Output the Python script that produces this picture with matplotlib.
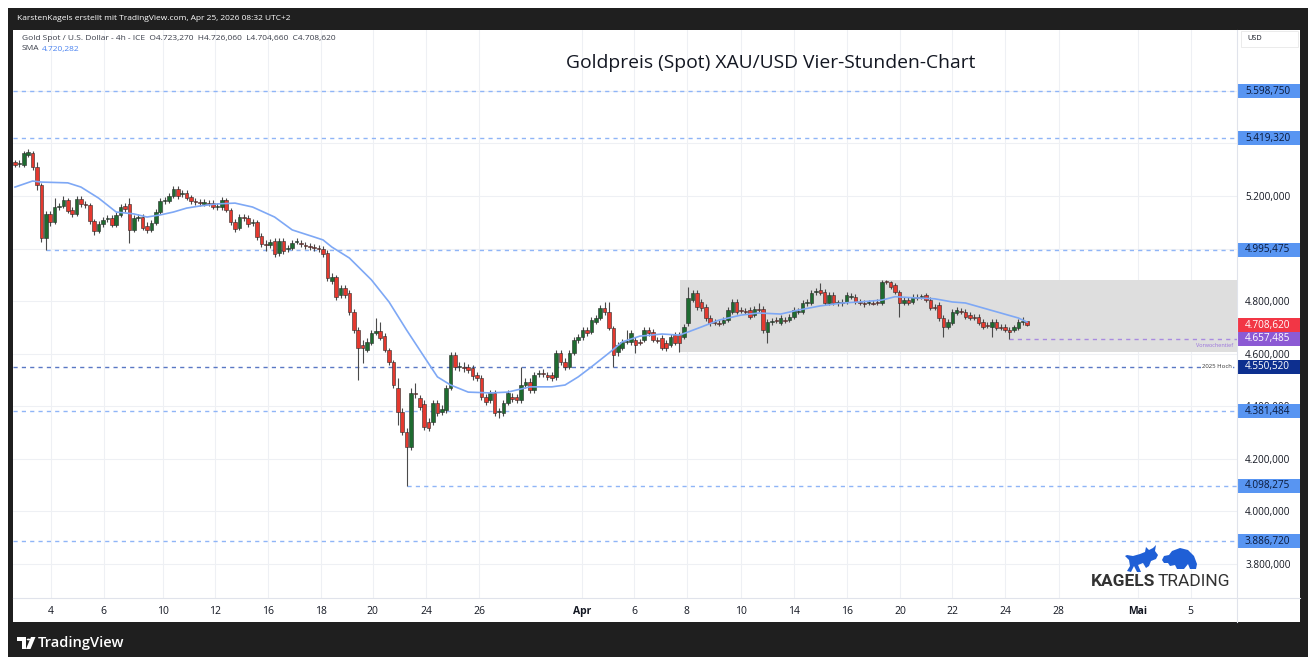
import matplotlib.pyplot as plt
from matplotlib.patches import Rectangle, Polygon, Circle
from matplotlib.lines import Line2D
from matplotlib.transforms import blended_transform_factory

plt.rcParams['font.family'] = ['Open Sans', 'DejaVu Sans']

W, H = 1311, 657

# Gold Spot 4h candles (index = bar number)
opens = [
    5329, 5321, 5318, 5356, 5363, 5310, 5242, 5040, 5132, 5101,
    5158, 5162, 5185, 5147, 5132, 5189, 5170, 5166, 5105, 5067,
    5093, 5112, 5116, 5090, 5128, 5162, 5170, 5071, 5116, 5120,
    5086, 5071, 5097, 5139, 5181, 5181, 5200, 5227, 5207, 5211,
    5196, 5181, 5177, 5170, 5173, 5173, 5158, 5158, 5185, 5147,
    5101, 5078, 5120, 5116, 5097, 5101, 5048, 5017, 5014, 5029,
    4984, 5029, 4999, 5003, 5025, 5021, 5014, 5010, 5006, 5003,
    4999, 4984, 4877, 4893, 4824, 4851, 4832, 4759, 4690, 4633,
    4614, 4641, 4679, 4686, 4667, 4614, 4569, 4470, 4378, 4302,
    4245, 4451, 4432, 4409, 4340, 4340, 4413, 4378, 4386, 4470,
    4595, 4550, 4550, 4550, 4546, 4519, 4508, 4436, 4424, 4451,
    4378, 4375, 4413, 4436, 4436, 4424, 4481, 4493, 4462, 4523,
    4527, 4519, 4519, 4512, 4603, 4569, 4550, 4603, 4652, 4664,
    4690, 4683, 4721, 4736, 4774, 4759, 4698, 4607, 4622, 4645,
    4645, 4652, 4645, 4652, 4690, 4683, 4652, 4660, 4641, 4633,
    4671, 4671, 4664, 4717, 4804, 4832, 4797, 4778, 4736, 4721,
    4717, 4717, 4728, 4759, 4797, 4766, 4763, 4766, 4747, 4770,
    4770, 4683, 4721, 4728, 4717, 4728, 4728, 4740, 4759, 4759,
    4793, 4793, 4836, 4843, 4836, 4793, 4824, 4793, 4797, 4797,
    4817, 4817, 4797, 4793, 4793, 4793, 4797, 4793, 4876, 4874,
    4862, 4836, 4793, 4804, 4797, 4817, 4817, 4824, 4804, 4778,
    4786, 4736, 4702, 4717, 4755, 4763, 4759, 4747, 4740, 4740,
    4721, 4709, 4702, 4721, 4702, 4702, 4690, 4690, 4698, 4719,
    4723.27]
highs = [
    5337, 5337, 5371, 5379, 5371, 5329, 5250, 5143, 5143, 5192,
    5173, 5200, 5192, 5158, 5200, 5200, 5181, 5173, 5112, 5105,
    5120, 5128, 5128, 5139, 5170, 5173, 5192, 5128, 5132, 5132,
    5101, 5109, 5150, 5192, 5196, 5211, 5238, 5238, 5223, 5223,
    5204, 5192, 5189, 5189, 5185, 5185, 5173, 5196, 5192, 5154,
    5112, 5132, 5132, 5128, 5112, 5109, 5059, 5033, 5036, 5040,
    5040, 5040, 5014, 5033, 5040, 5033, 5025, 5021, 5017, 5014,
    5010, 4995, 4908, 4900, 4862, 4862, 4843, 4770, 4702, 4652,
    4660, 4690, 4736, 4721, 4679, 4622, 4576, 4508, 4394, 4317,
    4470, 4489, 4443, 4424, 4356, 4424, 4424, 4405, 4481, 4607,
    4607, 4569, 4569, 4561, 4557, 4531, 4519, 4447, 4462, 4462,
    4394, 4424, 4462, 4451, 4447, 4550, 4508, 4508, 4531, 4538,
    4542, 4531, 4531, 4614, 4614, 4584, 4614, 4664, 4675, 4702,
    4702, 4740, 4747, 4786, 4797, 4797, 4706, 4645, 4656, 4690,
    4690, 4664, 4656, 4702, 4702, 4694, 4664, 4671, 4652, 4675,
    4683, 4683, 4713, 4855, 4843, 4843, 4809, 4789, 4747, 4732,
    4728, 4740, 4778, 4809, 4809, 4778, 4774, 4778, 4782, 4793,
    4782, 4732, 4736, 4740, 4747, 4740, 4751, 4778, 4774, 4804,
    4809, 4843, 4851, 4870, 4847, 4836, 4836, 4804, 4809, 4836,
    4832, 4828, 4809, 4804, 4804, 4804, 4809, 4880, 4879, 4878,
    4870, 4843, 4817, 4817, 4828, 4828, 4828, 4832, 4817, 4789,
    4797, 4747, 4732, 4770, 4778, 4774, 4770, 4759, 4751, 4751,
    4732, 4721, 4732, 4732, 4713, 4713, 4702, 4709, 4732, 4740,
    4726.06]
lows = [
    5310, 5310, 5310, 5348, 5299, 5223, 5025, 4995.475, 5086, 5093,
    5147, 5154, 5135, 5120, 5124, 5158, 5154, 5093, 5052, 5059,
    5082, 5101, 5082, 5082, 5120, 5139, 5021, 5063, 5105, 5071,
    5059, 5063, 5090, 5132, 5170, 5173, 5192, 5189, 5196, 5185,
    5170, 5166, 5162, 5162, 5162, 5150, 5147, 5147, 5139, 5090,
    5063, 5071, 5105, 5082, 5086, 5033, 5006, 4991, 5003, 4968,
    4972, 4980, 4987, 4995, 5017, 5006, 4999, 4995, 4991, 4987,
    4968, 4877, 4866, 4804, 4813, 4813, 4747, 4679, 4500, 4565,
    4607, 4633, 4671, 4652, 4607, 4557, 4470, 4329, 4291, 4098.275,
    4234, 4432, 4386, 4310, 4306, 4329, 4363, 4367, 4375, 4462,
    4538, 4534, 4531, 4527, 4500, 4496, 4424, 4405, 4413, 4363,
    4356, 4363, 4405, 4416, 4413, 4413, 4470, 4451, 4451, 4512,
    4512, 4500, 4496, 4500, 4557, 4538, 4542, 4595, 4641, 4652,
    4667, 4675, 4713, 4728, 4747, 4690, 4550, 4591, 4614, 4637,
    4633, 4603, 4633, 4645, 4667, 4645, 4641, 4614, 4610, 4626,
    4633, 4607, 4656, 4706, 4797, 4766, 4763, 4724, 4706, 4709,
    4706, 4709, 4721, 4751, 4751, 4755, 4751, 4732, 4740, 4759,
    4679, 4641, 4709, 4717, 4709, 4717, 4721, 4732, 4751, 4751,
    4782, 4786, 4824, 4824, 4786, 4786, 4786, 4782, 4782, 4789,
    4809, 4789, 4786, 4778, 4786, 4786, 4786, 4786, 4864, 4847,
    4828, 4740, 4786, 4786, 4789, 4804, 4809, 4797, 4766, 4766,
    4724, 4664, 4694, 4709, 4747, 4751, 4732, 4728, 4728, 4709,
    4694, 4698, 4664, 4690, 4690, 4683, 4657.485, 4683, 4690, 4709,
    4704.66]
closes = [
    5318, 5325, 5363, 5367, 5310, 5242, 5040, 5132, 5101, 5158,
    5162, 5185, 5143, 5132, 5189, 5170, 5166, 5105, 5067, 5093,
    5109, 5116, 5090, 5128, 5158, 5150, 5071, 5116, 5120, 5078,
    5071, 5097, 5139, 5181, 5185, 5200, 5227, 5200, 5211, 5192,
    5181, 5177, 5173, 5177, 5170, 5158, 5162, 5185, 5147, 5101,
    5074, 5120, 5116, 5093, 5101, 5044, 5017, 5014, 5025, 4980,
    5029, 4991, 5003, 5021, 5029, 5017, 5010, 5006, 5003, 4999,
    4980, 4889, 4893, 4817, 4851, 4824, 4759, 4690, 4622, 4622,
    4645, 4679, 4686, 4660, 4614, 4569, 4481, 4378, 4302, 4245,
    4451, 4447, 4397, 4321, 4317, 4413, 4375, 4390, 4470, 4595,
    4550, 4553, 4546, 4538, 4515, 4508, 4436, 4416, 4451, 4375,
    4382, 4413, 4451, 4428, 4424, 4481, 4493, 4462, 4519, 4527,
    4523, 4512, 4508, 4603, 4569, 4550, 4603, 4652, 4664, 4690,
    4679, 4728, 4736, 4774, 4759, 4698, 4595, 4633, 4645, 4648,
    4679, 4633, 4641, 4690, 4679, 4652, 4648, 4622, 4622, 4664,
    4641, 4641, 4702, 4813, 4832, 4778, 4774, 4736, 4717, 4717,
    4713, 4728, 4766, 4797, 4759, 4763, 4759, 4740, 4770, 4766,
    4690, 4721, 4724, 4724, 4736, 4724, 4740, 4766, 4763, 4793,
    4797, 4832, 4840, 4832, 4793, 4824, 4793, 4797, 4793, 4824,
    4820, 4797, 4793, 4789, 4797, 4789, 4793, 4874, 4872, 4855,
    4836, 4793, 4804, 4793, 4817, 4813, 4820, 4804, 4774, 4774,
    4736, 4702, 4721, 4759, 4766, 4759, 4740, 4736, 4736, 4717,
    4702, 4706, 4721, 4698, 4698, 4690, 4683, 4702, 4721, 4723,
    4708.62]

# SMA line
sma_idx = [0, 4, 6, 12, 15, 19, 23, 27, 30, 33, 36, 39, 42, 46, 50, 54, 59, 63, 68, 70,
           72, 76, 81, 85, 89, 93, 96, 99, 103, 108, 112, 117, 122, 125, 128, 131, 135, 138, 142, 147,
           151, 153, 156, 160, 165, 169, 174, 178, 183, 188, 192, 197, 200, 204, 209, 213, 216, 220, 224, 228,
           230]
sma_val = [5234, 5257, 5253, 5250, 5234, 5192, 5139, 5132, 5120, 5128, 5139, 5154, 5162, 5170, 5173, 5158, 5120, 5071, 5044, 5033,
           5006, 4964, 4881, 4797, 4690, 4588, 4512, 4481, 4454, 4451, 4454, 4474, 4474, 4481, 4512, 4550, 4603, 4645, 4667, 4675,
           4671, 4683, 4702, 4728, 4747, 4755, 4751, 4766, 4782, 4793, 4797, 4804, 4817, 4813, 4809, 4797, 4793, 4774, 4755, 4736,
           4720.282]

date_labels = ['4', '6', '10', '12', '16', '18', '20', '24', '26', 'Apr', '6',
               '8', '10', '14', '16', '20', '22', '24', '28', 'Mai', '5']
date_pos = [8.2, 20.2, 33.6, 45.5, 57.6, 69.5, 81.3, 93.4, 105.5, 128.9, 140.7,
            152.7, 164.9, 177.0, 189.0, 201.1, 213.0, 225.0, 237.2, 255.1, 267.2]
price_ticks = [3800, 4000, 4200, 4400, 4600, 4800, 5000, 5200, 5400, 5600]
hidden_ticks = [5000, 5400, 5600]   # covered by the level boxes

levels = [5598.75, 5419.32, 4995.475, 4550.52, 4381.484, 4098.275, 3886.72, 4657.485]
level_line = ['#8fb5f7', '#8fb5f7', '#8fb5f7', '#5a78c4', '#8fb5f7', '#8fb5f7', '#8fb5f7', '#a98be0']
level_box = ['#5895f2', '#5895f2', '#5895f2', '#0d2f8f', '#5895f2', '#5895f2', '#5895f2', '#8c5ad4']
level_txt = ['#0b1a3a', '#0b1a3a', '#0b1a3a', 'white', '#0b1a3a', '#0b1a3a', '#0b1a3a', 'white']
range_low, range_high = 4607, 4880


def de_fmt(v):
    s = f"{v:,.3f}"
    return s.replace(',', 'X').replace('.', ',').replace('X', '.')


fig = plt.figure(figsize=(W / 100, H / 100), dpi=100)
fig.patch.set_facecolor('white')


def fig_rect(x0, y0, x1, y1, **kw):
    fig.patches.append(Rectangle((x0 / W, 1 - y1 / H), (x1 - x0) / W, (y1 - y0) / H,
                                 transform=fig.transFigure, **kw))


def fig_line(x0, y0, x1, y1, **kw):
    fig.add_artist(Line2D([x0 / W, x1 / W], [1 - y0 / H, 1 - y1 / H], transform=fig.transFigure, **kw))


def px_poly(pts, **kw):
    fig.patches.append(Polygon([(x / W, 1 - y / H) for x, y in pts], closed=True,
                               transform=fig.transFigure, **kw))


fig_rect(8, 8, 1308, 657, facecolor='#1f1f1f', edgecolor='none', zorder=-10)
fig_rect(13, 30, 1300, 622, facecolor='white', edgecolor='none', zorder=-9)

ax = fig.add_axes([13 / W, 1 - 598 / H, 1224 / W, 568 / H])
ax.set_facecolor('white')
xmin, xmax = -0.45, 277.7
ymin, ymax = 3670.8, 5831.5

for p in date_pos:
    ax.axvline(p, color='#eef0f4', lw=0.8, zorder=0)
for p in price_ticks:
    ax.axhline(p, color='#eef0f4', lw=0.8, zorder=0)

# consolidation range
ax.add_patch(Rectangle((151.2, range_low), xmax - 151.2, range_high - range_low,
                       facecolor='#dedede', edgecolor='none', zorder=0.5))

# horizontal levels
for lv, lc in zip(levels, level_line):
    start = lows.index(lv) if lv in lows else xmin
    ax.hlines(lv, start, xmax, colors=lc, linestyles=(0, (3, 3)), lw=1, zorder=1)

ax.text(276.6, levels[3], '2025 Hoch', ha='right', va='center', fontsize=4.3, color='#333333',
        bbox=dict(facecolor='white', edgecolor='none', pad=0.6), zorder=2)
ax.text(276.8, 4633, 'Vorwochentief', ha='right', va='center', fontsize=4.0, color='#9a72dd', zorder=2)

# candles
for i in range(len(closes)):
    o, h, l, c = opens[i], highs[i], lows[i], closes[i]
    up = c >= o
    ax.vlines(i, l, h, colors='#4a4a4a', lw=0.8, zorder=3)
    body = max(abs(c - o), 3)
    ax.bar(i, body, bottom=min(o, c), width=0.8,
           color='#1e6b30' if up else '#e5392f', edgecolor='#2a2a2a', linewidth=0.4, zorder=4)

ax.plot(sma_idx, sma_val, color='#7ea8f5', lw=1.2, zorder=5)

ax.set_xlim(xmin, xmax)
ax.set_ylim(ymin, ymax)
for s in ax.spines.values():
    s.set_visible(False)

ax.yaxis.tick_right()
ax.set_yticks(price_ticks, ['' if p in hidden_ticks else de_fmt(p) for p in price_ticks])
ax.tick_params(axis='y', length=0, pad=5.8, labelsize=7.2, labelcolor='#131722')
ax.set_xticks(date_pos, date_labels)
ax.tick_params(axis='x', length=0, pad=6, labelsize=7.5, labelcolor='#131722')
for t in ax.get_xticklabels():
    if t.get_text() in ('Apr', 'Mai'):
        t.set_fontweight('bold')

# price boxes on the scale
tr = blended_transform_factory(ax.transAxes, ax.transData)
box_h = 14 * (ymax - ymin) / 568
for lv, bc, tc in zip(levels + [closes[-1]], level_box + ['#f23645'], level_txt + ['white']):
    ax.add_patch(Rectangle((1.0008, lv - box_h / 2), 0.0507, box_h, transform=tr,
                           facecolor=bc, edgecolor='none', clip_on=False, zorder=6))
    ax.text(1.0065, lv, de_fmt(lv), transform=tr, ha='left', va='center',
            fontsize=7.2, color=tc, clip_on=False, zorder=7)

# frame lines of the scales
fig_line(1237, 30, 1237, 622, color='#e0e3eb', lw=0.8)
fig_line(13, 598, 1300, 598, color='#e0e3eb', lw=0.8)
fig_rect(1241, 31, 1298, 47, facecolor='white', edgecolor='#e8e8e8', lw=0.6)
fig.text(1247 / W, 1 - 39 / H, 'USD', fontsize=5.3, color='#131722', va='center')

# header and legend
fig.text(17 / W, 1 - 18 / H, 'KarstenKagels erstellt mit TradingView.com, Apr 25, 2026 08:32 UTC+2',
         fontsize=6.0, color='white', va='center')
fig.text(22 / W, 1 - 38 / H,
         'Gold Spot / U.S. Dollar - 4h - ICE  O4.723,270  H4.726,060  L4.704,660  C4.708,620',
         fontsize=6.0, color='#3a3e4a', va='center')
fig.text(22 / W, 1 - 49 / H, 'SMA', fontsize=6.0, color='#3a3e4a', va='center')
fig.text(42 / W, 1 - 49 / H, '4.720,282', fontsize=6.0, color='#4c84f0', va='center')
fig.text(771 / W, 1 - 63 / H, 'Goldpreis (Spot) XAU/USD Vier-Stunden-Chart',
         fontsize=13.9, color='#131722', ha='center', va='center')

# footer
fig.text(38 / W, 1 - 643 / H, 'TradingView', fontsize=10.5, color='white', va='center', fontweight='semibold')
px_poly([(17, 637), (26, 637), (26, 649), (22, 649), (22, 641), (17, 641)], facecolor='white', edgecolor='none')
fig.patches.append(Circle((28.5 / W, 1 - 639.5 / H), 1.8 / W, transform=fig.transFigure,
                          facecolor='white', edgecolor='none'))
px_poly([(31, 637), (35.5, 637), (30.5, 649), (26, 649)], facecolor='white', edgecolor='none')

# Kagels Trading logo
px_poly([(1127, 571), (1130, 566), (1129, 560), (1125, 556), (1127, 555), (1133, 556), (1140, 554),
         (1145, 552), (1146, 547), (1149, 550), (1153, 548), (1156, 545), (1155, 551), (1158, 555),
         (1156, 559), (1151, 561), (1149, 566), (1146, 568), (1143, 563), (1138, 565), (1141, 572),
         (1137, 572), (1134, 566), (1131, 572)], facecolor='#1f5fd6', edgecolor='none')
px_poly([(1162, 560), (1164, 556), (1169, 555), (1172, 551), (1180, 548), (1188, 550), (1194, 556),
         (1197, 564), (1196, 569), (1190, 569), (1188, 564), (1184, 569), (1177, 569), (1175, 565),
         (1170, 566), (1168, 563), (1164, 563)], facecolor='#1f5fd6', edgecolor='none')
fig.text(1091 / W, 1 - 582 / H, 'KAGELS', fontsize=12.5, color='#333333', fontweight='bold',
         va='center', family='Roboto')
fig.text(1158 / W, 1 - 582 / H, 'TRADING', fontsize=12.5, color='#333333', va='center',
         family='Roboto')

fig.savefig('out.png', dpi=100)
